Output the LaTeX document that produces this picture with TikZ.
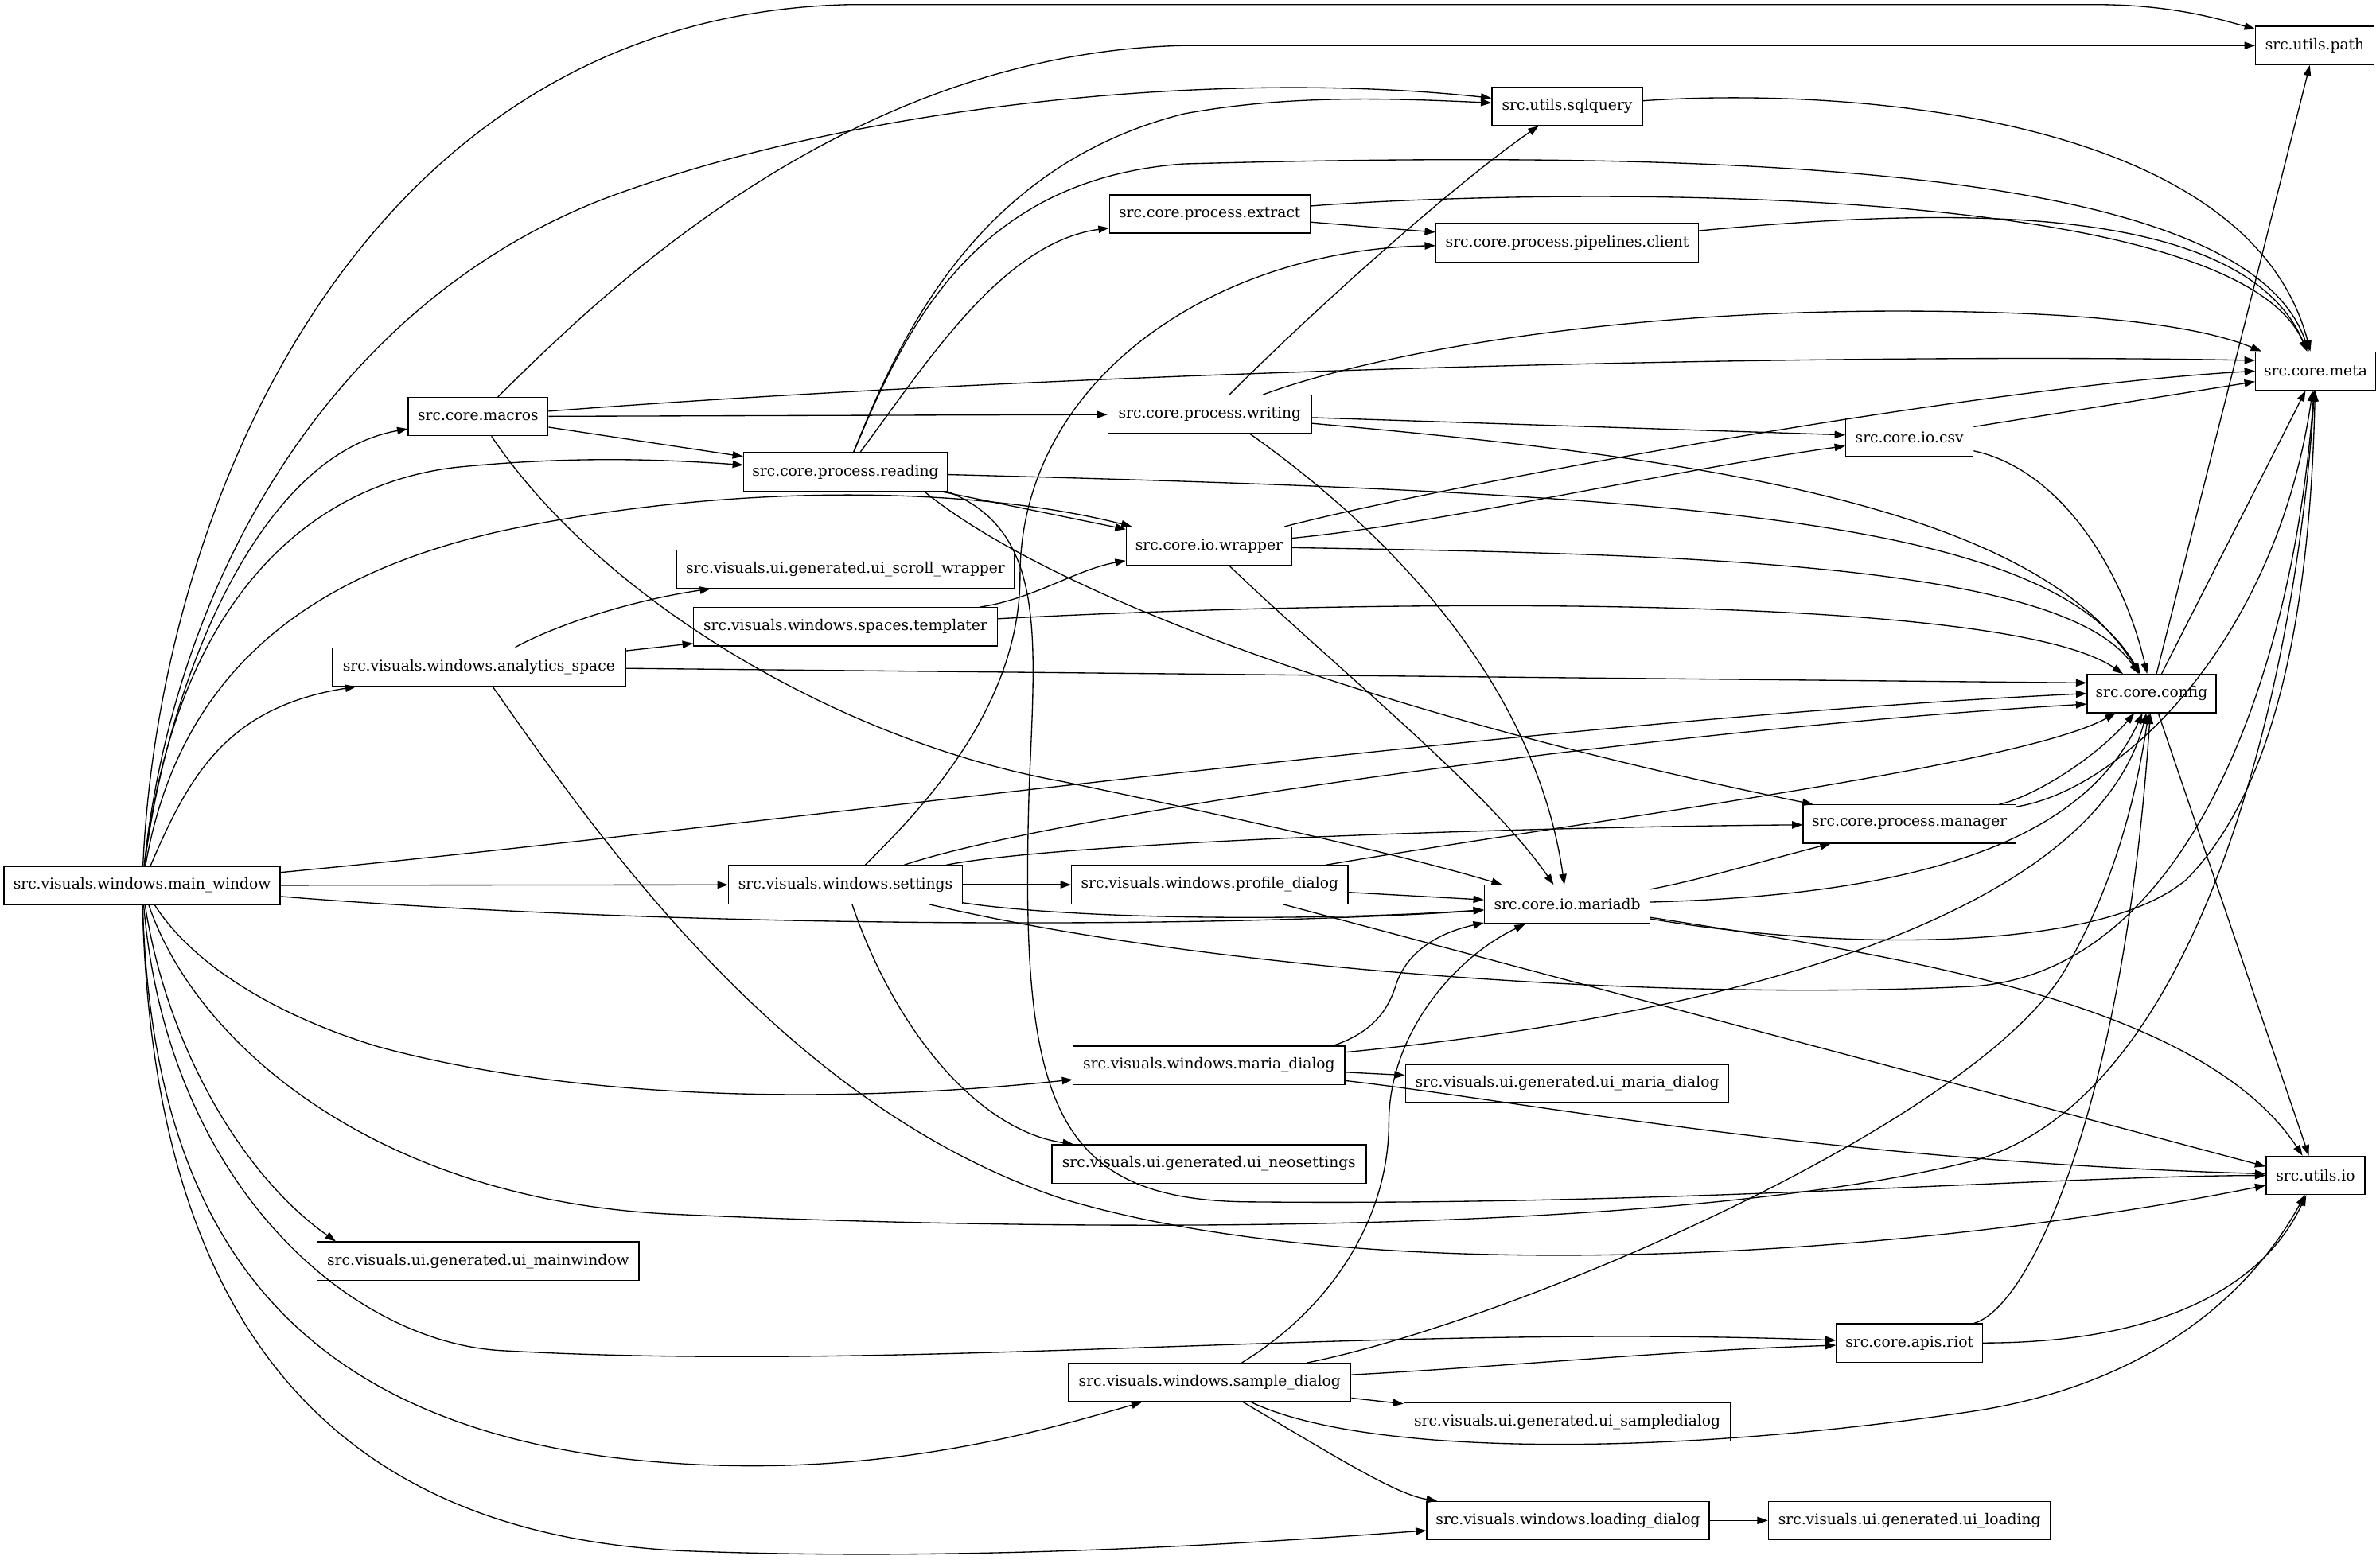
\documentclass[tikz,border=0pt]{standalone}
\usepackage{fontspec}
\setmainfont{DejaVu Serif}
\usetikzlibrary{arrows.meta}

\begin{document}
\begin{tikzpicture}[
  x=0.05028cm, y=-0.05028cm,
  >={Triangle[length=10pt, width=7pt]},
  mod/.style={draw, line width=1pt, minimum width=#1, minimum height=1.27cm,
    inner sep=0pt, font=\fontsize{14pt}{16pt}\selectfont},
  dep/.style={->, line width=1pt},
]
\useasboundingbox (0,0) rectangle (1568,1028);

% === Modules ===
\node[mod=9.15cm] (mw) at (93.6,583.5) {src.visuals.windows.main\_window};

\node[mod=4.63cm] (macros) at (315,274.5) {src.core.macros};
\node[mod=9.70cm] (analytics) at (315.5,439.5) {src.visuals.windows.analytics\_space};
\node[mod=10.66cm] (uimain) at (315,831) {src.visuals.ui.generated.ui\_mainwindow};

\node[mod=6.74cm] (reading) at (557,311) {src.core.process.reading};
\node[mod=11.16cm] (scroll) at (557,375) {src.visuals.ui.generated.ui\_scroll\_wrapper};
\node[mod=10.06cm] (templater) at (557,413) {src.visuals.windows.spaces.templater};
\node[mod=7.74cm] (settings) at (557,583) {src.visuals.windows.settings};

\node[mod=6.64cm] (extract) at (797,141) {src.core.process.extract};
\node[mod=6.74cm] (writing) at (797,273) {src.core.process.writing};
\node[mod=5.48cm] (wrapper) at (796.5,360) {src.core.io.wrapper};
\node[mod=9.15cm] (profile) at (797,583) {src.visuals.windows.profile\_dialog};
\node[mod=9.00cm] (mariadlg) at (796.5,702) {src.visuals.windows.maria\_dialog};
\node[mod=10.41cm] (uineo) at (796.5,767) {src.visuals.ui.generated.ui\_neosettings};
\node[mod=9.35cm] (sample) at (797,911) {src.visuals.windows.sample\_dialog};

\node[mod=4.98cm] (sqlquery) at (1032.5,70) {src.utils.sqlquery};
\node[mod=8.70cm] (pipelines) at (1032.5,160) {src.core.process.pipelines.client};
\node[mod=5.48cm] (mariadb) at (1032.5,596) {src.core.io.mariadb};
\node[mod=10.71cm] (uimaria) at (1032.5,714) {src.visuals.ui.generated.ui\_maria\_dialog};
\node[mod=10.81cm] (uisample) at (1032.5,937) {src.visuals.ui.generated.ui\_sampledialog};
\node[mod=9.35cm] (loading) at (1033,1002) {src.visuals.windows.loading\_dialog};

\node[mod=4.22cm] (csv) at (1258,288) {src.core.io.csv};
\node[mod=7.04cm] (manager) at (1258,543) {src.core.process.manager};
\node[mod=4.83cm] (riot) at (1258,885) {src.core.apis.riot};
\node[mod=9.35cm] (uiloading) at (1258,1002) {src.visuals.ui.generated.ui\_loading};

\node[mod=4.27cm] (config) at (1417.5,457) {src.core.config};

\node[mod=3.92cm] (upath) at (1525,30) {src.utils.path};
\node[mod=3.97cm] (meta) at (1525.5,244.5) {src.core.meta};
\node[mod=3.27cm] (uio) at (1525.5,774.5) {src.utils.io};

% === main_window ===
\draw[dep] (mw) .. controls (105,330) and (240,10) .. (560,3) -- (1380,3)
  .. controls (1430,3) and (1460,12) .. (upath);
\draw[dep] (mw) .. controls (115,380) and (220,200) .. (398,131)
  .. controls (560,70) and (800,45) .. (sqlquery);
\draw[dep] (mw) .. controls (110,450) and (170,300) .. (macros);
\draw[dep] (mw) .. controls (115,400) and (200,320) .. (300,308)
  .. controls (380,300) and (440,303) .. (reading);
\draw[dep] (mw) .. controls (120,430) and (220,375) .. (330,350)
  .. controls (480,318) and (640,320) .. (wrapper);
\draw[dep] (mw) .. controls (125,510) and (150,466) .. (analytics);
\draw[dep] (mw) .. controls (500,545) and (1000,475) .. (config.west);
\draw[dep] (mw) -- (settings);
\draw[dep] (mw) .. controls (450,612) and (800,612) .. (mariadb);
\draw[dep] (mw) .. controls (130,640) and (190,672) .. (250,690)
  .. controls (380,725) and (550,728) .. (mariadlg);
\draw[dep] (mw) .. controls (130,690) and (250,790) .. (440,800)
  .. controls (700,812) and (1100,815) .. (1300,765)
  .. controls (1460,720) and (1515,420) .. (meta);
\draw[dep] (mw) .. controls (110,690) and (160,775) .. ([xshift=18pt]uimain.north west);
\draw[dep] (mw) .. controls (110,780) and (230,884) .. (330,890)
  .. controls (600,905) and (900,872) .. (riot);
\draw[dep] (mw) .. controls (100,800) and (180,930) .. (400,960)
  .. controls (560,980) and (680,945) .. (sample);
\draw[dep] (mw) .. controls (100,850) and (200,1010) .. (450,1022)
  .. controls (650,1030) and (850,1015) .. (loading);

% === macros ===
\draw[dep] (macros) .. controls (400,190) and (560,35) .. (780,30) -- (upath);
\draw[dep] (macros) .. controls (700,245) and (1200,232) .. ([yshift=10pt]meta.west);
\draw[dep] (macros) -- (writing);
\draw[dep] (macros) -- (reading);
\draw[dep] (macros) .. controls (400,400) and (560,490) .. (700,515)
  .. controls (820,540) and (930,565) .. (mariadb);

% === process.reading ===
\draw[dep] (reading) .. controls (590,230) and (640,110) .. (780,75)
  .. controls (850,62) and (920,65) .. (sqlquery);
\draw[dep] (reading) .. controls (595,220) and (640,118) .. (780,108)
  .. controls (1150,98) and (1480,110) .. (meta);
\draw[dep] (reading) .. controls (610,240) and (660,160) .. (extract);
\draw[dep] (reading) -- (wrapper);
\draw[dep] (reading) .. controls (1100,325) and (1350,340) .. (config);
\draw[dep] (reading.-14) .. controls (690,390) and (900,470) .. (manager);
\draw[dep] (reading.south east) .. controls (690,350) and (682,420) .. (678,520)
  .. controls (672,720) and (690,790) .. (820,792)
  .. controls (1100,795) and (1350,775) .. (uio);

% === extract, pipelines, sqlquery ===
\draw[dep] (extract) -- (pipelines);
\draw[dep] (extract) .. controls (1000,125) and (1470,115) .. (meta);
\draw[dep] (pipelines) .. controls (1250,140) and (1475,125) .. (meta);
\draw[dep] (sqlquery) .. controls (1200,58) and (1480,70) .. (meta);

% === process.writing ===
\draw[dep] (writing) .. controls (870,200) and (960,120) .. (sqlquery);
\draw[dep] (writing) .. controls (900,235) and (1050,205) .. (1250,205)
  .. controls (1380,205) and (1450,215) .. ([xshift=6pt]meta.north west);
\draw[dep] (writing) -- (csv);
\draw[dep] (writing) .. controls (1100,300) and (1340,330) .. (config);
\draw[dep] (writing.-26) .. controls (900,340) and (1010,440) .. (mariadb);

% === io.wrapper ===
\draw[dep] (wrapper) .. controls (950,320) and (1300,255) .. (meta.west);
\draw[dep] (wrapper) .. controls (950,345) and (1100,310) .. (csv);
\draw[dep] (wrapper) .. controls (1100,365) and (1360,370) .. (config);
\draw[dep] (wrapper) .. controls (880,440) and (980,520) .. (mariadb);

% === templater, analytics_space ===
\draw[dep] (templater) .. controls (680,395) and (710,375) .. (wrapper);
\draw[dep] (templater) .. controls (900,395) and (1320,390) .. (config);
\draw[dep] (analytics) .. controls (370,410) and (420,395) .. (scroll);
\draw[dep] (analytics) -- (templater);
\draw[dep] (analytics) -- ([yshift=10pt]config.west);
\draw[dep] (analytics) .. controls (400,560) and (520,730) .. (700,790)
  .. controls (900,850) and (1250,830) .. (uio);

% === settings ===
\draw[dep] (settings) .. controls (600,540) and (672,470) .. (672,380)
  .. controls (672,250) and (800,165) .. (pipelines);
\draw[dep] (settings) .. controls (700,535) and (1100,480) .. ([yshift=-10pt]config.west);
\draw[dep] (settings) .. controls (700,555) and (1000,545) .. (manager);
\draw[dep] (settings) -- (profile);
\draw[dep] (settings) .. controls (700,605) and (850,608) .. (mariadb);
\draw[dep] (settings) .. controls (800,640) and (1100,660) .. (1300,650)
  .. controls (1440,640) and (1510,450) .. (meta);
\draw[dep] (settings) .. controls (590,680) and (645,745) .. (uineo);

% === profile_dialog ===
\draw[dep] (profile) .. controls (1050,540) and (1330,505) .. (config);
\draw[dep] (profile) -- (mariadb);
\draw[dep] (profile.-15) -- (uio.170);

% === mariadb, manager, csv, config ===
\draw[dep] (mariadb) .. controls (1120,580) and (1170,565) .. (manager);
\draw[dep] (mariadb) .. controls (1250,590) and (1370,560) .. (config);
\draw[dep] (mariadb) .. controls (1200,625) and (1380,630) .. (1440,580)
  .. controls (1500,520) and (1522,400) .. (meta);
\draw[dep] (mariadb) .. controls (1250,630) and (1450,660) .. (uio);
\draw[dep] (manager) .. controls (1340,525) and (1380,500) .. (config);
\draw[dep] (manager) .. controls (1400,520) and (1500,420) .. (meta);
\draw[dep] (csv) -- ([yshift=-10pt]meta.west);
\draw[dep] (csv) .. controls (1360,310) and (1400,380) .. (config);
\draw[dep] (config) -- (upath);
\draw[dep] (config) -- (meta);
\draw[dep] (config) -- (uio);

% === maria_dialog ===
\draw[dep] (mariadlg.9) .. controls (905,680) and (915,665) .. (920,648)
  .. controls (930,620) and (960,612) .. (mariadb);
\draw[dep] (mariadlg) .. controls (1150,668) and (1380,600) .. (config);
\draw[dep] (mariadlg) -- (uimaria);
\draw[dep] (mariadlg) .. controls (1000,725) and (1200,765) .. (uio);

% === sample_dialog ===
\draw[dep] (sample) .. controls (880,860) and (915,800) .. (915,740)
  .. controls (915,680) and (960,630) .. (mariadb);
\draw[dep] (sample) .. controls (1000,870) and (1300,740) .. (1360,640)
  .. controls (1395,580) and (1408,520) .. (config);
\draw[dep] (sample) .. controls (1000,900) and (1100,890) .. (riot);
\draw[dep] (sample) -- (uisample);
\draw[dep] (sample) .. controls (900,960) and (1100,960) .. (1300,930)
  .. controls (1430,910) and (1490,840) .. (uio);
\draw[dep] (sample) .. controls (880,960) and (920,985) .. (loading);

% === apis.riot, loading_dialog ===
\draw[dep] (riot) .. controls (1340,860) and (1400,720) .. (config);
\draw[dep] (riot) .. controls (1420,885) and (1490,850) .. (uio);
\draw[dep] (loading) -- (uiloading);

\end{tikzpicture}
\end{document}
